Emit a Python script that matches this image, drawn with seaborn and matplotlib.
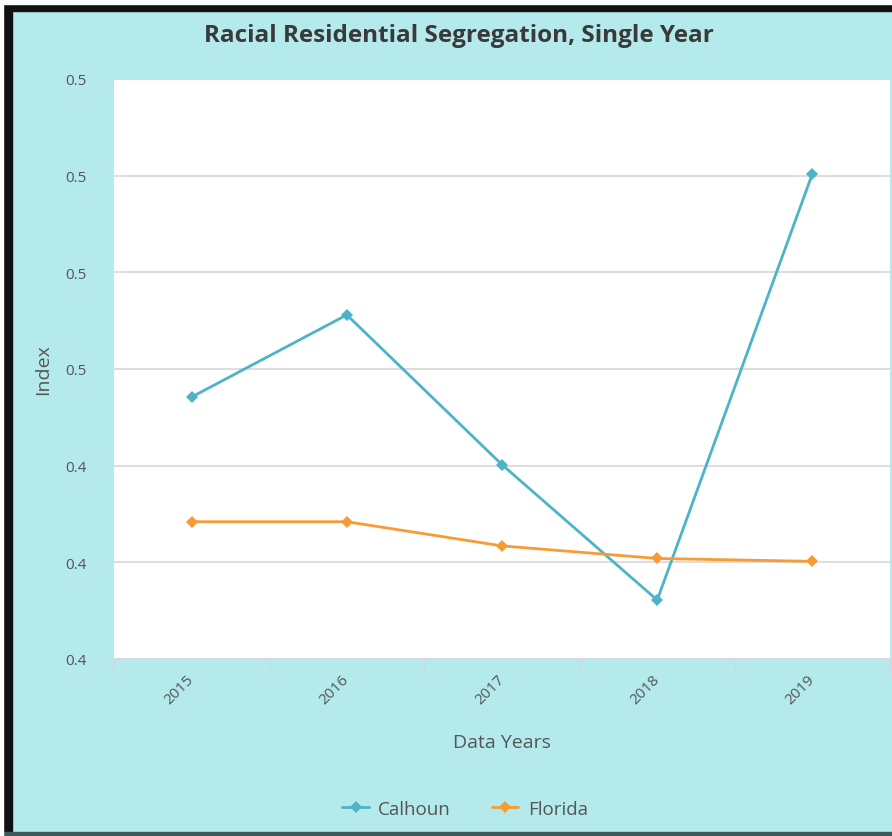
import pandas as pd
import seaborn as sns
import matplotlib.pyplot as plt
import numpy as np

# data
years = ['2015', '2016', '2017', '2018', '2019']
calhoun = [0.4471, 0.4556, 0.4401, 0.4261, 0.4702]
florida = [0.4342, 0.4342, 0.4317, 0.4304, 0.4301]
y_ticks = [0.42, 0.43, 0.44, 0.45, 0.46, 0.47, 0.48]
y_tick_labels = ['0.4', '0.4', '0.4', '0.5', '0.5', '0.5', '0.5']

df = pd.DataFrame({'Year': years * 2,
                   'Index': calhoun + florida,
                   'Area': ['Calhoun'] * 5 + ['Florida'] * 5})

bg = '#b4eaec'
sns.set_theme(style='white')
plt.rcParams['font.family'] = ['Open Sans', 'DejaVu Sans']

fig = plt.figure(figsize=(8.92, 8.37), dpi=100, facecolor=bg)
ax = fig.add_axes([114 / 892, 1 - 660 / 837, 776 / 892, 580 / 837])
ax.set_facecolor('white')

palette = {'Calhoun': '#4db3c8', 'Florida': '#f79b34'}
sns.lineplot(data=df, x='Year', y='Index', hue='Area', palette=palette,
             marker='D', markersize=6, markeredgewidth=0, linewidth=2,
             ax=ax, sort=False)

ax.set_xlim(-0.5, 4.5)
ax.set_ylim(0.42, 0.48)
ax.set_yticks(y_ticks)
ax.set_yticklabels(y_tick_labels)
ax.yaxis.grid(True, color='#dddddd', linewidth=1.5)
ax.set_axisbelow(True)

for s in ['top', 'right', 'left']:
    ax.spines[s].set_visible(False)
ax.spines['bottom'].set_color('#d8d8e8')
ax.spines['bottom'].set_linewidth(1.5)

ax.tick_params(axis='x', which='major', length=0, pad=13, labelsize=11,
               labelcolor='#555555', labelrotation=45)
ax.set_xticks(np.arange(-0.5, 5, 1), minor=True)
ax.tick_params(axis='x', which='minor', bottom=True, length=10, color='#cfd8dc', width=1)
ax.tick_params(axis='y', length=0, pad=20, labelsize=11, labelcolor='#555555')
for lbl in ax.get_xticklabels():
    lbl.set_ha('right')
    lbl.set_va('center')
    lbl.set_rotation_mode('anchor')

ax.set_xlabel('Data Years', fontsize=14, color='#555555', labelpad=19)
ax.set_ylabel('Index', fontsize=14, color='#555555', labelpad=9)

fig.text(0.514, 1 - 36 / 837, 'Racial Residential Segregation, Single Year',
         ha='center', va='center', fontsize=17.5, fontweight='bold', color='#3a3a3a')

leg = ax.legend(loc='center', bbox_to_anchor=(465 / 892, 1 - 810 / 837),
                bbox_transform=fig.transFigure, ncol=2, frameon=False,
                fontsize=13.5, handlelength=1.4, handletextpad=0.5, columnspacing=2.2)
for t in leg.get_texts():
    t.set_color('#555555')

# dark frame on top, left and bottom
fig.patches.append(plt.Rectangle((0, 1 - 12 / 837), 1, 7 / 837, transform=fig.transFigure,
                                 color='#111111', zorder=10))
fig.patches.append(plt.Rectangle((3 / 892, 0), 9 / 892, 1 - 5 / 837, transform=fig.transFigure,
                                 color='#111111', zorder=10))
fig.patches.append(plt.Rectangle((3 / 892, 0), 1, 4 / 837, transform=fig.transFigure,
                                 color='#3d5a5c', zorder=10))
fig.patches.append(plt.Rectangle((0, 1 - 5 / 837), 1, 5 / 837, transform=fig.transFigure,
                                 color='white', zorder=10))
fig.patches.append(plt.Rectangle((0, 0), 3 / 892, 1, transform=fig.transFigure,
                                 color='white', zorder=10))

plt.savefig('out.png', dpi=100, facecolor=bg)
